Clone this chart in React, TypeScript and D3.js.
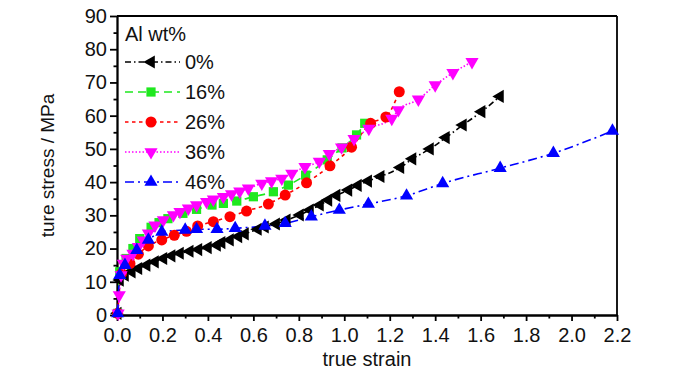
import React, { useEffect, useRef } from "react";
import * as d3 from "d3";

// strain / stress readings for each Al content
const al0 = [
  [0.003, 0.5], [0.013, 10.5], [0.035, 12], [0.065, 13], [0.094, 14], [0.13, 15], [0.167, 16],
  [0.204, 17], [0.24, 17.8], [0.277, 18.6], [0.32, 19.2], [0.358, 19.7], [0.4, 20.3], [0.44, 21],
  [0.46, 21.8], [0.497, 22.6], [0.534, 23.6], [0.563, 24.4], [0.62, 25.8], [0.651, 26.5], [0.7, 27.4],
  [0.747, 28.6], [0.805, 30.1], [0.849, 31.6], [0.893, 33.1], [0.93, 34.6], [0.966, 36], [1.018, 37.6],
  [1.06, 39], [1.105, 40.3], [1.16, 41.7], [1.247, 44.4], [1.3, 47], [1.377, 50], [1.447, 53.4],
  [1.522, 57.2], [1.604, 61.2], [1.685, 65.8],
];
const al16 = [
  [0.003, 0.5], [0.012, 13], [0.04, 17], [0.07, 20], [0.1, 23], [0.15, 26.4], [0.185, 27.8],
  [0.224, 29], [0.29, 30.6], [0.35, 31.8], [0.418, 33.1], [0.468, 33.6], [0.527, 34.3], [0.6, 35.6],
  [0.688, 37.1], [0.754, 39.1], [0.83, 42.1], [0.925, 46.7], [0.99, 50.3], [1.054, 54.2], [1.09, 57.7],
];
const al26 = [
  [0.003, 0.5], [0.02, 12.5], [0.057, 15.5], [0.094, 18.3], [0.138, 20.8], [0.197, 22.6], [0.252, 24],
  [0.306, 25.2], [0.355, 26.8], [0.424, 28.1], [0.497, 29.6], [0.57, 31.3], [0.666, 33.4], [0.74, 36.1],
  [0.834, 39.8], [0.937, 44.9], [1.032, 50.5], [1.116, 57.7], [1.183, 59.6], [1.242, 67.2],
];
const al36 = [
  [0.005, 0.5], [0.01, 6], [0.018, 12], [0.028, 15.5], [0.043, 17], [0.07, 18.5], [0.094, 20.5],
  [0.115, 22.5], [0.138, 24.6], [0.167, 27], [0.204, 28.6], [0.248, 30.1], [0.277, 31.1], [0.314, 32.1],
  [0.35, 33.1], [0.394, 34.1], [0.424, 34.8], [0.468, 35.6], [0.504, 36.4], [0.54, 37.2], [0.578, 38.1],
  [0.637, 39.6], [0.68, 40.3], [0.725, 41.1], [0.769, 42.6], [0.827, 44.6], [0.89, 46.2], [0.934, 48.5],
  [0.988, 50.5], [1.043, 53], [1.108, 56.1], [1.209, 59.1], [1.238, 61.7], [1.326, 64.9], [1.4, 69.2],
  [1.478, 72.9], [1.562, 76.2],
];
const al46 = [
  [0.003, 0.5], [0.012, 12], [0.035, 15], [0.087, 19.5], [0.138, 22.6], [0.197, 25], [0.3, 25.6],
  [0.35, 25.8], [0.44, 25.8], [0.52, 26.1], [0.651, 26.8], [0.74, 27.6], [0.855, 29.6], [0.978, 31.6],
  [1.106, 33.4], [1.274, 35.9], [1.433, 39.6], [1.686, 44.2], [1.92, 48.7], [2.18, 55.4],
];

const seriesNames = ["0%", "16%", "26%", "36%", "46%"];
const legendTitle = "Al wt%";
const xTicks = [0, 0.2, 0.4, 0.6, 0.8, 1.0, 1.2, 1.4, 1.6, 1.8, 2.0, 2.2];
const yTicks = [0, 10, 20, 30, 40, 50, 60, 70, 80, 90];
const xLabel = "true strain";
const yLabel = "ture stress / MPa";

const FONT = "'Liberation Sans', Arial, sans-serif";

function App() {
  const ref = useRef(null);

  useEffect(() => {
    const svg = d3.select(ref.current);
    svg.selectAll("*").remove();

    const left = 117, right = 617, top = 16, bottom = 315;
    const x = d3.scaleLinear().domain([0, 2.2]).range([left, right]);
    const y = d3.scaleLinear().domain([0, 90]).range([bottom, top]);

    const styles = [
      { data: al0, color: "#000000", dash: "6 3 1.5 3", sym: d3.symbolTriangle, rot: -90, size: 75 },
      { data: al16, color: "#1fe81f", dash: "8 5", sym: d3.symbolSquare, rot: 0, size: 85 },
      { data: al26, color: "#ff0000", dash: "3.5 3.5", sym: d3.symbolCircle, rot: 0, size: 95 },
      { data: al36, color: "#ff00ff", dash: "1.5 2", sym: d3.symbolTriangle, rot: 180, size: 75 },
      { data: al46, color: "#0000ff", dash: "9 4 2 4", sym: d3.symbolTriangle, rot: 0, size: 75 },
    ];

    // axes with major + minor ticks
    const xMinor = d3.range(0.1, 2.2, 0.2);
    const yMinor = d3.range(5, 90, 10);

    svg.append("g")
      .attr("transform", `translate(0,${bottom})`)
      .call(d3.axisBottom(x).tickValues(xMinor).tickSize(3.5).tickFormat(() => "").tickSizeOuter(0));
    svg.append("g")
      .attr("transform", `translate(${left},0)`)
      .call(d3.axisLeft(y).tickValues(yMinor).tickSize(3.5).tickFormat(() => "").tickSizeOuter(0));

    const xAxis = svg.append("g")
      .attr("transform", `translate(0,${bottom})`)
      .call(d3.axisBottom(x).tickValues(xTicks).tickSize(6).tickPadding(7).tickSizeOuter(0)
        .tickFormat(d3.format(".1f")));
    const yAxis = svg.append("g")
      .attr("transform", `translate(${left},0)`)
      .call(d3.axisLeft(y).tickValues(yTicks).tickSize(7).tickPadding(3).tickSizeOuter(0));

    [xAxis, yAxis].forEach(a => {
      a.selectAll("text").style("font-family", FONT).style("font-size", "20px").attr("fill", "#111");
    });
    svg.selectAll(".domain, .tick line").attr("stroke", "#000").attr("stroke-width", 1.8);

    // top and right frame
    svg.append("line").attr("x1", left).attr("x2", right).attr("y1", top).attr("y2", top)
      .attr("stroke", "#000").attr("stroke-width", 1.8);
    svg.append("line").attr("x1", right).attr("x2", right).attr("y1", top).attr("y2", bottom)
      .attr("stroke", "#000").attr("stroke-width", 1.8);

    const line = d3.line().x(d => x(d[0])).y(d => y(d[1])).curve(d3.curveMonotoneX);

    styles.forEach(s => {
      svg.append("path")
        .attr("d", line(s.data))
        .attr("fill", "none")
        .attr("stroke", s.color)
        .attr("stroke-width", 1.6)
        .attr("stroke-dasharray", s.dash);
    });
    styles.forEach(s => {
      svg.append("g").selectAll("path")
        .data(s.data)
        .join("path")
        .attr("d", d3.symbol().type(s.sym).size(s.size))
        .attr("transform", d => `translate(${x(d[0])},${y(d[1])}) rotate(${s.rot})`)
        .attr("fill", s.color);
    });

    // legend
    const lg = svg.append("g").style("font-family", FONT).style("font-size", "20px");
    lg.append("text").attr("x", 125).attr("y", 41).attr("fill", "#111").text(legendTitle);
    styles.forEach((s, i) => {
      const ly = 62 + i * 30;
      lg.append("line").attr("x1", 125).attr("x2", 180).attr("y1", ly).attr("y2", ly)
        .attr("stroke", s.color).attr("stroke-width", 1.6).attr("stroke-dasharray", s.dash);
      lg.append("path")
        .attr("d", d3.symbol().type(s.sym).size(s.size)())
        .attr("transform", `translate(151,${ly}) rotate(${s.rot})`)
        .attr("fill", s.color);
      lg.append("text").attr("x", 185).attr("y", ly + 7).attr("fill", "#111").text(seriesNames[i]);
    });

    // axis titles
    svg.append("text")
      .attr("x", (left + right) / 2).attr("y", 366)
      .attr("text-anchor", "middle")
      .style("font-family", FONT).style("font-size", "20px").attr("fill", "#111")
      .text(xLabel);
    svg.append("text")
      .attr("transform", `translate(54,${(top + bottom) / 2}) rotate(-90)`)
      .attr("text-anchor", "middle")
      .style("font-family", FONT).style("font-size", "19px").attr("fill", "#111")
      .text(yLabel);
  }, []);

  return (
    <div style={{ position: "absolute", left: 0, top: 0 }}>
      <svg ref={ref} width={700} height={374} style={{ display: "block", background: "#fff" }} />
    </div>
  );
}

export default App;
